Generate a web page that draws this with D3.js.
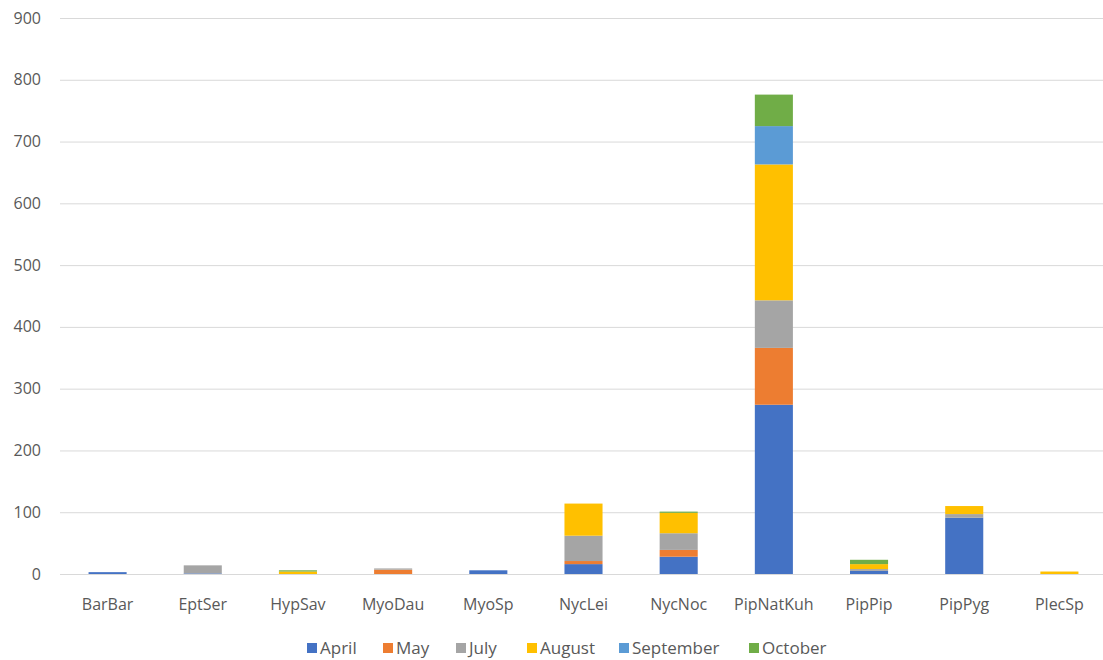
<!DOCTYPE html>
<html>
<head>
<meta charset="utf-8">
<script src="https://cdn.jsdelivr.net/npm/d3@7"></script>
<style>
  body { margin: 0; background: #fff; }
  svg { font-family: "Open Sans", "Noto Sans", sans-serif; }
</style>
</head>
<body>
<svg id="chart" width="1103" height="660"></svg>
<script>
// Species on the x axis
const species = ["BarBar", "EptSer", "HypSav", "MyoDau", "MyoSp", "NycLei", "NycNoc", "PipNatKuh", "PipPip", "PipPyg", "PlecSp"];
const months = ["April", "May", "July", "August", "September", "October"];
const colors = ["#4472C4", "#ED7D31", "#A5A5A5", "#FFC000", "#5B9BD5", "#70AD47"];

// Counts per month, one value per species
const april     = [3, 1, 0, 0, 6, 16, 28, 274, 5, 91, 0];
const may       = [0, 0, 0, 7, 0, 5, 11, 92, 0, 0, 0];
const july      = [0, 13, 0, 2, 0, 41, 27, 77, 3, 6, 0];
const august    = [0, 0, 4, 0, 0, 52, 33, 220, 8, 13, 4];
const september = [0, 0, 0, 0, 0, 0, 0, 62, 0, 0, 0];
const october   = [0, 0, 2, 0, 0, 0, 2, 51, 7, 0, 0];

const yTicks = [0, 100, 200, 300, 400, 500, 600, 700, 800, 900];

const series = [april, may, july, august, september, october];
const rows = species.map((s, i) => {
  const r = { species: s };
  months.forEach((m, j) => r[m] = series[j][i]);
  return r;
});

const svg = d3.select("#chart");
const plotLeft = 60, plotRight = 1107, plotTop = 18, plotBottom = 574;

const x = d3.scaleBand().domain(species).range([plotLeft, plotRight]).paddingInner(0.6).paddingOuter(0.3);
const y = d3.scaleLinear().domain([0, 900]).range([plotBottom, plotTop]);

// Gridlines
svg.append("g")
  .selectAll("line")
  .data(yTicks)
  .join("line")
  .attr("x1", plotLeft).attr("x2", 1103)
  .attr("y1", d => y(d) + 0.5).attr("y2", d => y(d) + 0.5)
  .attr("stroke", "#d9d9d9")
  .attr("stroke-width", 1);

// Y labels
svg.append("g")
  .selectAll("text")
  .data(yTicks)
  .join("text")
  .attr("x", 41)
  .attr("y", d => y(d))
  .attr("dy", "0.35em")
  .attr("text-anchor", "end")
  .attr("fill", "#595959")
  .attr("font-size", 16)
  .text(d => d);

// Stacked bars
const stacked = d3.stack().keys(months)(rows);
svg.append("g")
  .selectAll("g")
  .data(stacked)
  .join("g")
  .attr("fill", (d, i) => colors[i])
  .selectAll("rect")
  .data(d => d)
  .join("rect")
  .attr("x", d => x(d.data.species))
  .attr("width", x.bandwidth())
  .attr("y", d => y(d[1]))
  .attr("height", d => y(d[0]) - y(d[1]));

// X labels
svg.append("g")
  .selectAll("text")
  .data(species)
  .join("text")
  .attr("x", d => x(d) + x.bandwidth() / 2)
  .attr("y", 604)
  .attr("dy", "0.35em")
  .attr("text-anchor", "middle")
  .attr("fill", "#595959")
  .attr("font-size", 16)
  .text(d => d);

// Legend
const legendX = [307, 383, 456, 527, 619, 749];
const legend = svg.append("g")
  .selectAll("g")
  .data(months)
  .join("g")
  .attr("transform", (d, i) => `translate(${legendX[i]},648)`);
legend.append("rect")
  .attr("x", 0).attr("y", -5)
  .attr("width", 10).attr("height", 10)
  .attr("fill", (d, i) => colors[i]);
legend.append("text")
  .attr("x", 13)
  .attr("dy", "0.35em")
  .attr("fill", "#595959")
  .attr("font-size", 17)
  .text(d => d);
</script>
</body>
</html>
